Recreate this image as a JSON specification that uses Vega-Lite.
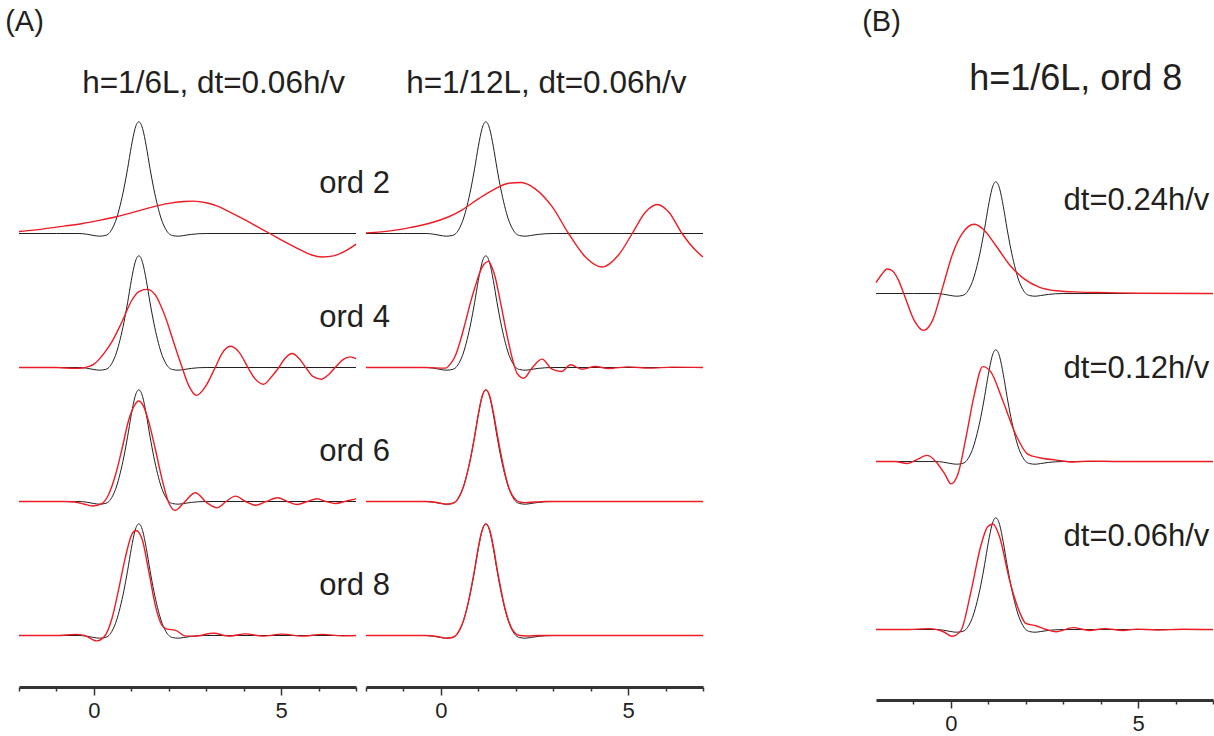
{
"$schema": "https://vega.github.io/schema/vega-lite/v6.json",
"background": "white",
"padding": {"left": 5, "top": 8, "right": 0, "bottom": 0},
"config": {"view": {"stroke": null}, "font": "Liberation Sans", "title": {"fontWeight": "normal", "color": "#231f20", "font": "Liberation Sans"}, "text": {"font": "Liberation Sans"}},
"datasets": {
"ref": [
{"x":-2,"y":0},{"x":-1,"y":0},{"x":-0.4,"y":0},{"x":-0.2,"y":-0.006},{"x":0,"y":-0.018},{"x":0.15,"y":-0.024},{"x":0.3,"y":-0.018},{"x":0.4,"y":0},{"x":0.5,"y":0.05},{"x":0.6,"y":0.13},{"x":0.7,"y":0.25},{"x":0.8,"y":0.4},{"x":0.9,"y":0.58},{"x":1.0,"y":0.78},{"x":1.1,"y":0.94},{"x":1.15,"y":0.985},{"x":1.2,"y":1.0},{"x":1.25,"y":0.985},{"x":1.3,"y":0.94},{"x":1.4,"y":0.78},{"x":1.5,"y":0.58},{"x":1.6,"y":0.4},{"x":1.7,"y":0.25},{"x":1.8,"y":0.13},{"x":1.9,"y":0.05},{"x":2.0,"y":0},{"x":2.1,"y":-0.018},{"x":2.25,"y":-0.024},{"x":2.4,"y":-0.018},{"x":2.6,"y":-0.008},{"x":2.8,"y":-0.002},{"x":3.0,"y":0},{"x":7,"y":0}
],
"red": [
{"s":"L2","x":-2,"y":0.018},{"s":"L2","x":-1.6,"y":0.03},{"s":"L2","x":-1.2,"y":0.048},{"s":"L2","x":-0.8,"y":0.066},{"s":"L2","x":-0.3,"y":0.09},{"s":"L2","x":0.1,"y":0.115},{"s":"L2","x":0.6,"y":0.15},{"s":"L2","x":1.0,"y":0.185},{"s":"L2","x":1.5,"y":0.232},{"s":"L2","x":2.0,"y":0.27},{"s":"L2","x":2.4,"y":0.286},{"s":"L2","x":2.65,"y":0.29},{"s":"L2","x":3.0,"y":0.275},{"s":"L2","x":3.3,"y":0.245},{"s":"L2","x":3.7,"y":0.18},{"s":"L2","x":4.1,"y":0.11},{"s":"L2","x":4.4,"y":0.055},{"s":"L2","x":4.7,"y":0},{"s":"L2","x":5.1,"y":-0.075},{"s":"L2","x":5.5,"y":-0.145},{"s":"L2","x":5.8,"y":-0.19},{"s":"L2","x":6.1,"y":-0.21},{"s":"L2","x":6.4,"y":-0.2},{"s":"L2","x":6.7,"y":-0.16},{"s":"L2","x":7.0,"y":-0.095},
{"s":"L4","x":-2,"y":0},{"s":"L4","x":-1,"y":0},{"s":"L4","x":-0.5,"y":-0.008},{"s":"L4","x":-0.3,"y":-0.005},{"s":"L4","x":-0.15,"y":0.008},{"s":"L4","x":0,"y":0.03},{"s":"L4","x":0.12,"y":0.066},{"s":"L4","x":0.3,"y":0.14},{"s":"L4","x":0.48,"y":0.23},{"s":"L4","x":0.75,"y":0.41},{"s":"L4","x":1.01,"y":0.6},{"s":"L4","x":1.2,"y":0.68},{"s":"L4","x":1.42,"y":0.7},{"s":"L4","x":1.64,"y":0.65},{"s":"L4","x":1.91,"y":0.45},{"s":"L4","x":2.17,"y":0.185},{"s":"L4","x":2.35,"y":0.006},{"s":"L4","x":2.53,"y":-0.16},{"s":"L4","x":2.74,"y":-0.25},{"s":"L4","x":2.98,"y":-0.17},{"s":"L4","x":3.24,"y":0},{"s":"L4","x":3.42,"y":0.125},{"s":"L4","x":3.64,"y":0.19},{"s":"L4","x":3.87,"y":0.14},{"s":"L4","x":4.13,"y":-0.01},{"s":"L4","x":4.3,"y":-0.1},{"s":"L4","x":4.53,"y":-0.15},{"s":"L4","x":4.75,"y":-0.08},{"s":"L4","x":4.94,"y":0},{"s":"L4","x":5.1,"y":0.08},{"s":"L4","x":5.3,"y":0.125},{"s":"L4","x":5.48,"y":0.08},{"s":"L4","x":5.66,"y":0},{"s":"L4","x":5.85,"y":-0.08},{"s":"L4","x":6.08,"y":-0.105},{"s":"L4","x":6.28,"y":-0.06},{"s":"L4","x":6.46,"y":0.006},{"s":"L4","x":6.65,"y":0.07},{"s":"L4","x":6.85,"y":0.095},{"s":"L4","x":7.0,"y":0.08},
{"s":"L6","x":-2,"y":0},{"s":"L6","x":-0.8,"y":0},{"s":"L6","x":-0.5,"y":-0.005},{"s":"L6","x":-0.25,"y":-0.025},{"s":"L6","x":-0.03,"y":-0.04},{"s":"L6","x":0.21,"y":-0.02},{"s":"L6","x":0.39,"y":0.06},{"s":"L6","x":0.57,"y":0.23},{"s":"L6","x":0.75,"y":0.47},{"s":"L6","x":0.93,"y":0.73},{"s":"L6","x":1.1,"y":0.87},{"s":"L6","x":1.19,"y":0.9},{"s":"L6","x":1.33,"y":0.85},{"s":"L6","x":1.46,"y":0.72},{"s":"L6","x":1.64,"y":0.47},{"s":"L6","x":1.82,"y":0.2},{"s":"L6","x":2.0,"y":-0.012},{"s":"L6","x":2.17,"y":-0.08},{"s":"L6","x":2.4,"y":-0.012},{"s":"L6","x":2.71,"y":0.078},{"s":"L6","x":3.02,"y":-0.012},{"s":"L6","x":3.29,"y":-0.057},{"s":"L6","x":3.53,"y":0},{"s":"L6","x":3.78,"y":0.048},{"s":"L6","x":4.05,"y":0},{"s":"L6","x":4.31,"y":-0.033},{"s":"L6","x":4.6,"y":0},{"s":"L6","x":4.91,"y":0.033},{"s":"L6","x":5.17,"y":0},{"s":"L6","x":5.43,"y":-0.027},{"s":"L6","x":5.7,"y":0},{"s":"L6","x":5.96,"y":0.024},{"s":"L6","x":6.2,"y":0},{"s":"L6","x":6.45,"y":-0.018},{"s":"L6","x":6.75,"y":0.005},{"s":"L6","x":7.0,"y":0.024},
{"s":"L8","x":-2,"y":0},{"s":"L8","x":-1,"y":0},{"s":"L8","x":-0.5,"y":0.01},{"s":"L8","x":-0.25,"y":0},{"s":"L8","x":0.08,"y":-0.048},{"s":"L8","x":0.3,"y":0},{"s":"L8","x":0.48,"y":0.15},{"s":"L8","x":0.66,"y":0.41},{"s":"L8","x":0.84,"y":0.7},{"s":"L8","x":1.02,"y":0.91},{"s":"L8","x":1.12,"y":0.94},{"s":"L8","x":1.28,"y":0.87},{"s":"L8","x":1.46,"y":0.585},{"s":"L8","x":1.64,"y":0.27},{"s":"L8","x":1.82,"y":0.09},{"s":"L8","x":1.95,"y":0.057},{"s":"L8","x":2.17,"y":0.048},{"s":"L8","x":2.44,"y":-0.003},{"s":"L8","x":2.67,"y":-0.006},{"s":"L8","x":3.2,"y":0.02},{"s":"L8","x":3.6,"y":-0.006},{"s":"L8","x":4.05,"y":0.015},{"s":"L8","x":4.5,"y":-0.006},{"s":"L8","x":5.03,"y":0.012},{"s":"L8","x":5.56,"y":-0.006},{"s":"L8","x":6.1,"y":0.01},{"s":"L8","x":6.63,"y":-0.003},{"s":"L8","x":7.0,"y":0},
{"s":"R2","x":-2,"y":0.006},{"s":"R2","x":-1.6,"y":0.015},{"s":"R2","x":-1.22,"y":0.03},{"s":"R2","x":-0.8,"y":0.055},{"s":"R2","x":-0.33,"y":0.09},{"s":"R2","x":0.21,"y":0.15},{"s":"R2","x":0.56,"y":0.21},{"s":"R2","x":1.0,"y":0.31},{"s":"R2","x":1.45,"y":0.4},{"s":"R2","x":1.81,"y":0.45},{"s":"R2","x":2.15,"y":0.457},{"s":"R2","x":2.52,"y":0.4},{"s":"R2","x":2.97,"y":0.24},{"s":"R2","x":3.41,"y":0},{"s":"R2","x":3.86,"y":-0.21},{"s":"R2","x":4.3,"y":-0.3},{"s":"R2","x":4.75,"y":-0.19},{"s":"R2","x":5.11,"y":0},{"s":"R2","x":5.46,"y":0.19},{"s":"R2","x":5.78,"y":0.26},{"s":"R2","x":6.09,"y":0.19},{"s":"R2","x":6.44,"y":0},{"s":"R2","x":6.8,"y":-0.15},{"s":"R2","x":7.0,"y":-0.21},
{"s":"R4","x":-2,"y":0},{"s":"R4","x":-0.4,"y":0},{"s":"R4","x":0.12,"y":-0.006},{"s":"R4","x":0.25,"y":0.03},{"s":"R4","x":0.38,"y":0.1},{"s":"R4","x":0.52,"y":0.24},{"s":"R4","x":0.65,"y":0.4},{"s":"R4","x":0.78,"y":0.57},{"s":"R4","x":0.92,"y":0.73},{"s":"R4","x":1.05,"y":0.86},{"s":"R4","x":1.14,"y":0.92},{"s":"R4","x":1.27,"y":0.95},{"s":"R4","x":1.36,"y":0.9},{"s":"R4","x":1.45,"y":0.81},{"s":"R4","x":1.54,"y":0.67},{"s":"R4","x":1.63,"y":0.52},{"s":"R4","x":1.74,"y":0.33},{"s":"R4","x":1.85,"y":0.16},{"s":"R4","x":1.94,"y":0.04},{"s":"R4","x":2.03,"y":-0.05},{"s":"R4","x":2.21,"y":-0.096},{"s":"R4","x":2.43,"y":-0.006},{"s":"R4","x":2.7,"y":0.075},{"s":"R4","x":2.97,"y":-0.015},{"s":"R4","x":3.22,"y":-0.036},{"s":"R4","x":3.46,"y":0.024},{"s":"R4","x":3.77,"y":-0.015},{"s":"R4","x":4.12,"y":0.009},{"s":"R4","x":4.48,"y":-0.009},{"s":"R4","x":5.02,"y":0.006},{"s":"R4","x":5.55,"y":-0.006},{"s":"R4","x":6.2,"y":0.003},{"s":"R4","x":7.0,"y":0},
{"s":"R6","x":-2,"y":0},{"s":"R6","x":-0.4,"y":0},{"s":"R6","x":-0.2,"y":-0.004},{"s":"R6","x":0,"y":-0.016},{"s":"R6","x":0.15,"y":-0.024},{"s":"R6","x":0.3,"y":-0.018},{"s":"R6","x":0.4,"y":0},{"s":"R6","x":0.5,"y":0.05},{"s":"R6","x":0.6,"y":0.13},{"s":"R6","x":0.7,"y":0.25},{"s":"R6","x":0.8,"y":0.4},{"s":"R6","x":0.9,"y":0.58},{"s":"R6","x":1.0,"y":0.78},{"s":"R6","x":1.1,"y":0.94},{"s":"R6","x":1.2,"y":1.0},{"s":"R6","x":1.3,"y":0.95},{"s":"R6","x":1.4,"y":0.8},{"s":"R6","x":1.5,"y":0.61},{"s":"R6","x":1.6,"y":0.43},{"s":"R6","x":1.7,"y":0.27},{"s":"R6","x":1.8,"y":0.14},{"s":"R6","x":1.9,"y":0.06},{"s":"R6","x":2.0,"y":0.015},{"s":"R6","x":2.1,"y":-0.005},{"s":"R6","x":2.25,"y":-0.01},{"s":"R6","x":2.5,"y":-0.005},{"s":"R6","x":2.8,"y":0},{"s":"R6","x":7,"y":0},
{"s":"R8","x":-2,"y":0},{"s":"R8","x":-0.4,"y":0},{"s":"R8","x":-0.2,"y":-0.004},{"s":"R8","x":0,"y":-0.016},{"s":"R8","x":0.15,"y":-0.024},{"s":"R8","x":0.3,"y":-0.018},{"s":"R8","x":0.4,"y":0},{"s":"R8","x":0.5,"y":0.05},{"s":"R8","x":0.6,"y":0.13},{"s":"R8","x":0.7,"y":0.25},{"s":"R8","x":0.8,"y":0.41},{"s":"R8","x":0.9,"y":0.59},{"s":"R8","x":1.0,"y":0.79},{"s":"R8","x":1.1,"y":0.94},{"s":"R8","x":1.2,"y":1.0},{"s":"R8","x":1.3,"y":0.95},{"s":"R8","x":1.4,"y":0.8},{"s":"R8","x":1.5,"y":0.6},{"s":"R8","x":1.6,"y":0.42},{"s":"R8","x":1.7,"y":0.26},{"s":"R8","x":1.8,"y":0.14},{"s":"R8","x":1.9,"y":0.06},{"s":"R8","x":2.0,"y":0.015},{"s":"R8","x":2.1,"y":0},{"s":"R8","x":2.3,"y":-0.004},{"s":"R8","x":2.6,"y":0},{"s":"R8","x":7,"y":0},
{"s":"B24","x":-2,"y":0.097},{"s":"B24","x":-1.85,"y":0.17},{"s":"B24","x":-1.7,"y":0.22},{"s":"B24","x":-1.55,"y":0.2},{"s":"B24","x":-1.4,"y":0.12},{"s":"B24","x":-1.25,"y":-0.008},{"s":"B24","x":-0.98,"y":-0.24},{"s":"B24","x":-0.73,"y":-0.33},{"s":"B24","x":-0.49,"y":-0.24},{"s":"B24","x":-0.22,"y":0.055},{"s":"B24","x":0.04,"y":0.35},{"s":"B24","x":0.31,"y":0.54},{"s":"B24","x":0.62,"y":0.62},{"s":"B24","x":0.85,"y":0.58},{"s":"B24","x":1.2,"y":0.43},{"s":"B24","x":1.56,"y":0.26},{"s":"B24","x":1.92,"y":0.14},{"s":"B24","x":2.37,"y":0.055},{"s":"B24","x":2.81,"y":0.025},{"s":"B24","x":3.44,"y":0.013},{"s":"B24","x":4.16,"y":0.008},{"s":"B24","x":5,"y":0.003},{"s":"B24","x":7,"y":0},
{"s":"B12","x":-2,"y":0},{"s":"B12","x":-1.5,"y":0},{"s":"B12","x":-1.16,"y":-0.017},{"s":"B12","x":-0.9,"y":0.02},{"s":"B12","x":-0.63,"y":0.055},{"s":"B12","x":-0.36,"y":-0.017},{"s":"B12","x":-0.15,"y":-0.12},{"s":"B12","x":0,"y":-0.2},{"s":"B12","x":0.2,"y":-0.1},{"s":"B12","x":0.4,"y":0.21},{"s":"B12","x":0.62,"y":0.59},{"s":"B12","x":0.85,"y":0.85},{"s":"B12","x":1.07,"y":0.8},{"s":"B12","x":1.38,"y":0.55},{"s":"B12","x":1.74,"y":0.235},{"s":"B12","x":2.05,"y":0.067},{"s":"B12","x":2.37,"y":0.034},{"s":"B12","x":2.81,"y":0.013},{"s":"B12","x":3.26,"y":-0.004},{"s":"B12","x":3.7,"y":0.004},{"s":"B12","x":4.5,"y":0},{"s":"B12","x":7,"y":0},
{"s":"B06","x":-2,"y":0},{"s":"B06","x":-1.2,"y":0},{"s":"B06","x":-0.57,"y":0.008},{"s":"B06","x":-0.2,"y":-0.02},{"s":"B06","x":0.04,"y":-0.06},{"s":"B06","x":0.27,"y":-0.008},{"s":"B06","x":0.53,"y":0.33},{"s":"B06","x":0.8,"y":0.75},{"s":"B06","x":0.98,"y":0.92},{"s":"B06","x":1.12,"y":0.945},{"s":"B06","x":1.3,"y":0.83},{"s":"B06","x":1.56,"y":0.45},{"s":"B06","x":1.83,"y":0.16},{"s":"B06","x":2.0,"y":0.055},{"s":"B06","x":2.27,"y":0.034},{"s":"B06","x":2.55,"y":0},{"s":"B06","x":2.81,"y":-0.02},{"s":"B06","x":3.26,"y":0.017},{"s":"B06","x":3.7,"y":-0.008},{"s":"B06","x":4.1,"y":0.008},{"s":"B06","x":4.6,"y":-0.008},{"s":"B06","x":4.96,"y":0.004},{"s":"B06","x":5.5,"y":-0.004},{"s":"B06","x":6.2,"y":0.003},{"s":"B06","x":7,"y":0}
]
},
"spacing": 156,
"resolve": {"scale": {"x": "independent", "y": "independent"}},
"hconcat": [
{
"title": {"text": "(A)", "anchor": "start", "fontSize": 29, "dx": -11, "offset": 31},
"bounds": "flush", "columns": 2, "spacing": {"row": 0, "column": 10},
"resolve": {"scale": {"x": "independent", "y": "independent"}},
"concat": [
{"width": 337, "height": 134,
"title": {"text": "h=1/6L, dt=0.06h/v", "anchor": "start", "fontSize": 31.5, "dx": 66, "offset": 20},
"layer": [
{"data": {"name": "ref"}, "mark": {"type": "line", "color": "#231f20", "strokeWidth": 1, "interpolate": "monotone"}, "encoding": {"x": {"field": "x", "type": "quantitative", "scale": {"domain": [-2, 7], "nice": false, "zero": false}, "axis": null}, "y": {"field": "y", "type": "quantitative", "scale": {"domain": [-0.3, 0.9], "nice": false, "zero": false}, "axis": null}}},
{"data": {"name": "red"}, "transform": [{"filter": {"field": "s", "equal": "L2"}}], "mark": {"type": "line", "color": "#ed1c24", "strokeWidth": 1.4, "interpolate": "monotone"}, "encoding": {"x": {"field": "x", "type": "quantitative", "scale": {"domain": [-2, 7], "nice": false, "zero": false}, "axis": null}, "y": {"field": "y", "type": "quantitative", "scale": {"domain": [-0.3, 0.9], "nice": false, "zero": false}, "axis": null}}},
{"data": {"values": [{"label": "ord 2"}]}, "mark": {"type": "text", "align": "left", "baseline": "alphabetic", "fontSize": 31, "color": "#231f20"}, "encoding": {"x": {"datum": 6.02, "type": "quantitative", "axis": null}, "y": {"datum": 0.36, "type": "quantitative", "axis": null}, "text": {"field": "label"}}}
]},
{"width": 337, "height": 134,
"title": {"text": "h=1/12L, dt=0.06h/v", "anchor": "start", "fontSize": 31.5, "dx": 43, "offset": 20},
"layer": [
{"data": {"name": "ref"}, "mark": {"type": "line", "color": "#231f20", "strokeWidth": 1, "interpolate": "monotone"}, "encoding": {"x": {"field": "x", "type": "quantitative", "scale": {"domain": [-2, 7], "nice": false, "zero": false}, "axis": null}, "y": {"field": "y", "type": "quantitative", "scale": {"domain": [-0.3, 0.9], "nice": false, "zero": false}, "axis": null}}},
{"data": {"name": "red"}, "transform": [{"filter": {"field": "s", "equal": "R2"}}], "mark": {"type": "line", "color": "#ed1c24", "strokeWidth": 1.4, "interpolate": "monotone"}, "encoding": {"x": {"field": "x", "type": "quantitative", "scale": {"domain": [-2, 7], "nice": false, "zero": false}, "axis": null}, "y": {"field": "y", "type": "quantitative", "scale": {"domain": [-0.3, 0.9], "nice": false, "zero": false}, "axis": null}}}
]},
{"width": 337, "height": 134,
"layer": [
{"data": {"name": "ref"}, "mark": {"type": "line", "color": "#231f20", "strokeWidth": 1, "interpolate": "monotone"}, "encoding": {"x": {"field": "x", "type": "quantitative", "scale": {"domain": [-2, 7], "nice": false, "zero": false}, "axis": null}, "y": {"field": "y", "type": "quantitative", "scale": {"domain": [-0.3, 0.9], "nice": false, "zero": false}, "axis": null}}},
{"data": {"name": "red"}, "transform": [{"filter": {"field": "s", "equal": "L4"}}], "mark": {"type": "line", "color": "#ed1c24", "strokeWidth": 1.4, "interpolate": "monotone"}, "encoding": {"x": {"field": "x", "type": "quantitative", "scale": {"domain": [-2, 7], "nice": false, "zero": false}, "axis": null}, "y": {"field": "y", "type": "quantitative", "scale": {"domain": [-0.3, 0.9], "nice": false, "zero": false}, "axis": null}}},
{"data": {"values": [{"label": "ord 4"}]}, "mark": {"type": "text", "align": "left", "baseline": "alphabetic", "fontSize": 31, "color": "#231f20"}, "encoding": {"x": {"datum": 6.02, "type": "quantitative", "axis": null}, "y": {"datum": 0.36, "type": "quantitative", "axis": null}, "text": {"field": "label"}}}
]},
{"width": 337, "height": 134,
"layer": [
{"data": {"name": "ref"}, "mark": {"type": "line", "color": "#231f20", "strokeWidth": 1, "interpolate": "monotone"}, "encoding": {"x": {"field": "x", "type": "quantitative", "scale": {"domain": [-2, 7], "nice": false, "zero": false}, "axis": null}, "y": {"field": "y", "type": "quantitative", "scale": {"domain": [-0.3, 0.9], "nice": false, "zero": false}, "axis": null}}},
{"data": {"name": "red"}, "transform": [{"filter": {"field": "s", "equal": "R4"}}], "mark": {"type": "line", "color": "#ed1c24", "strokeWidth": 1.4, "interpolate": "monotone"}, "encoding": {"x": {"field": "x", "type": "quantitative", "scale": {"domain": [-2, 7], "nice": false, "zero": false}, "axis": null}, "y": {"field": "y", "type": "quantitative", "scale": {"domain": [-0.3, 0.9], "nice": false, "zero": false}, "axis": null}}}
]},
{"width": 337, "height": 134,
"layer": [
{"data": {"name": "ref"}, "mark": {"type": "line", "color": "#231f20", "strokeWidth": 1, "interpolate": "monotone"}, "encoding": {"x": {"field": "x", "type": "quantitative", "scale": {"domain": [-2, 7], "nice": false, "zero": false}, "axis": null}, "y": {"field": "y", "type": "quantitative", "scale": {"domain": [-0.3, 0.9], "nice": false, "zero": false}, "axis": null}}},
{"data": {"name": "red"}, "transform": [{"filter": {"field": "s", "equal": "L6"}}], "mark": {"type": "line", "color": "#ed1c24", "strokeWidth": 1.4, "interpolate": "monotone"}, "encoding": {"x": {"field": "x", "type": "quantitative", "scale": {"domain": [-2, 7], "nice": false, "zero": false}, "axis": null}, "y": {"field": "y", "type": "quantitative", "scale": {"domain": [-0.3, 0.9], "nice": false, "zero": false}, "axis": null}}},
{"data": {"values": [{"label": "ord 6"}]}, "mark": {"type": "text", "align": "left", "baseline": "alphabetic", "fontSize": 31, "color": "#231f20"}, "encoding": {"x": {"datum": 6.02, "type": "quantitative", "axis": null}, "y": {"datum": 0.36, "type": "quantitative", "axis": null}, "text": {"field": "label"}}}
]},
{"width": 337, "height": 134,
"layer": [
{"data": {"name": "ref"}, "mark": {"type": "line", "color": "#231f20", "strokeWidth": 1, "interpolate": "monotone"}, "encoding": {"x": {"field": "x", "type": "quantitative", "scale": {"domain": [-2, 7], "nice": false, "zero": false}, "axis": null}, "y": {"field": "y", "type": "quantitative", "scale": {"domain": [-0.3, 0.9], "nice": false, "zero": false}, "axis": null}}},
{"data": {"name": "red"}, "transform": [{"filter": {"field": "s", "equal": "R6"}}], "mark": {"type": "line", "color": "#ed1c24", "strokeWidth": 1.4, "interpolate": "monotone"}, "encoding": {"x": {"field": "x", "type": "quantitative", "scale": {"domain": [-2, 7], "nice": false, "zero": false}, "axis": null}, "y": {"field": "y", "type": "quantitative", "scale": {"domain": [-0.3, 0.9], "nice": false, "zero": false}, "axis": null}}}
]},
{"width": 337, "height": 134,
"layer": [
{"data": {"name": "ref"}, "mark": {"type": "line", "color": "#231f20", "strokeWidth": 1, "interpolate": "monotone"}, "encoding": {"x": {"field": "x", "type": "quantitative", "scale": {"domain": [-2, 7], "nice": false, "zero": false}, "axis": {"values": [-2, -1, 0, 1, 2, 3, 4, 5, 6, 7], "labelExpr": "datum.value === 0 || datum.value === 5 ? datum.label : ''", "offset": 18, "domainWidth": 3, "domainColor": "#333333", "tickColor": "#333333", "tickWidth": 1.5, "tickSize": {"condition": {"test": "datum.value === 0 || datum.value === 5", "value": 8}, "value": 4}, "labelFontSize": 22, "labelColor": "#231f20", "labelPadding": 5, "grid": false, "title": null}}, "y": {"field": "y", "type": "quantitative", "scale": {"domain": [-0.3, 0.9], "nice": false, "zero": false}, "axis": null}}},
{"data": {"name": "red"}, "transform": [{"filter": {"field": "s", "equal": "L8"}}], "mark": {"type": "line", "color": "#ed1c24", "strokeWidth": 1.4, "interpolate": "monotone"}, "encoding": {"x": {"field": "x", "type": "quantitative", "scale": {"domain": [-2, 7], "nice": false, "zero": false}, "axis": {"values": [-2, -1, 0, 1, 2, 3, 4, 5, 6, 7], "labelExpr": "datum.value === 0 || datum.value === 5 ? datum.label : ''", "offset": 18, "domainWidth": 3, "domainColor": "#333333", "tickColor": "#333333", "tickWidth": 1.5, "tickSize": {"condition": {"test": "datum.value === 0 || datum.value === 5", "value": 8}, "value": 4}, "labelFontSize": 22, "labelColor": "#231f20", "labelPadding": 5, "grid": false, "title": null}}, "y": {"field": "y", "type": "quantitative", "scale": {"domain": [-0.3, 0.9], "nice": false, "zero": false}, "axis": null}}},
{"data": {"values": [{"label": "ord 8"}]}, "mark": {"type": "text", "align": "left", "baseline": "alphabetic", "fontSize": 31, "color": "#231f20"}, "encoding": {"x": {"datum": 6.02, "type": "quantitative", "axis": {"values": [-2, -1, 0, 1, 2, 3, 4, 5, 6, 7], "labelExpr": "datum.value === 0 || datum.value === 5 ? datum.label : ''", "offset": 18, "domainWidth": 3, "domainColor": "#333333", "tickColor": "#333333", "tickWidth": 1.5, "tickSize": {"condition": {"test": "datum.value === 0 || datum.value === 5", "value": 8}, "value": 4}, "labelFontSize": 22, "labelColor": "#231f20", "labelPadding": 5, "grid": false, "title": null}}, "y": {"datum": 0.36, "type": "quantitative", "axis": null}, "text": {"field": "label"}}}
]},
{"width": 337, "height": 134,
"layer": [
{"data": {"name": "ref"}, "mark": {"type": "line", "color": "#231f20", "strokeWidth": 1, "interpolate": "monotone"}, "encoding": {"x": {"field": "x", "type": "quantitative", "scale": {"domain": [-2, 7], "nice": false, "zero": false}, "axis": {"values": [-2, -1, 0, 1, 2, 3, 4, 5, 6, 7], "labelExpr": "datum.value === 0 || datum.value === 5 ? datum.label : ''", "offset": 18, "domainWidth": 3, "domainColor": "#333333", "tickColor": "#333333", "tickWidth": 1.5, "tickSize": {"condition": {"test": "datum.value === 0 || datum.value === 5", "value": 8}, "value": 4}, "labelFontSize": 22, "labelColor": "#231f20", "labelPadding": 5, "grid": false, "title": null}}, "y": {"field": "y", "type": "quantitative", "scale": {"domain": [-0.3, 0.9], "nice": false, "zero": false}, "axis": null}}},
{"data": {"name": "red"}, "transform": [{"filter": {"field": "s", "equal": "R8"}}], "mark": {"type": "line", "color": "#ed1c24", "strokeWidth": 1.4, "interpolate": "monotone"}, "encoding": {"x": {"field": "x", "type": "quantitative", "scale": {"domain": [-2, 7], "nice": false, "zero": false}, "axis": {"values": [-2, -1, 0, 1, 2, 3, 4, 5, 6, 7], "labelExpr": "datum.value === 0 || datum.value === 5 ? datum.label : ''", "offset": 18, "domainWidth": 3, "domainColor": "#333333", "tickColor": "#333333", "tickWidth": 1.5, "tickSize": {"condition": {"test": "datum.value === 0 || datum.value === 5", "value": 8}, "value": 4}, "labelFontSize": 22, "labelColor": "#231f20", "labelPadding": 5, "grid": false, "title": null}}, "y": {"field": "y", "type": "quantitative", "scale": {"domain": [-0.3, 0.9], "nice": false, "zero": false}, "axis": null}}}
]}
]
},
{
"title": {"text": "(B)", "anchor": "start", "fontSize": 29, "dx": -11, "offset": 24},
"bounds": "flush", "spacing": 0,
"resolve": {"scale": {"x": "independent", "y": "independent"}},
"vconcat": [
{"width": 337, "height": 228,
"title": {"text": "h=1/6L, ord 8", "anchor": "start", "fontSize": 36, "dx": 96, "offset": 35},
"layer": [
{"data": {"name": "ref"}, "mark": {"type": "line", "color": "#231f20", "strokeWidth": 1, "interpolate": "monotone"}, "encoding": {"x": {"field": "x", "type": "quantitative", "scale": {"domain": [-2, 7], "nice": false, "zero": false}, "axis": null}, "y": {"field": "y", "type": "quantitative", "scale": {"domain": [-0.604, 1.437], "nice": false, "zero": false}, "axis": null}}},
{"data": {"name": "red"}, "transform": [{"filter": {"field": "s", "equal": "B24"}}], "mark": {"type": "line", "color": "#ed1c24", "strokeWidth": 1.4, "interpolate": "monotone"}, "encoding": {"x": {"field": "x", "type": "quantitative", "scale": {"domain": [-2, 7], "nice": false, "zero": false}, "axis": null}, "y": {"field": "y", "type": "quantitative", "scale": {"domain": [-0.604, 1.437], "nice": false, "zero": false}, "axis": null}}},
{"data": {"values": [{"label": "dt=0.24h/v"}]}, "mark": {"type": "text", "align": "left", "baseline": "alphabetic", "fontSize": 31, "color": "#231f20"}, "encoding": {"x": {"datum": 3.01, "type": "quantitative", "axis": null}, "y": {"datum": 0.75, "type": "quantitative", "axis": null}, "text": {"field": "label"}}}
]},
{"width": 337, "height": 168,
"layer": [
{"data": {"name": "ref"}, "mark": {"type": "line", "color": "#231f20", "strokeWidth": 1, "interpolate": "monotone"}, "encoding": {"x": {"field": "x", "type": "quantitative", "scale": {"domain": [-2, 7], "nice": false, "zero": false}, "axis": null}, "y": {"field": "y", "type": "quantitative", "scale": {"domain": [-0.604, 0.9], "nice": false, "zero": false}, "axis": null}}},
{"data": {"name": "red"}, "transform": [{"filter": {"field": "s", "equal": "B12"}}], "mark": {"type": "line", "color": "#ed1c24", "strokeWidth": 1.4, "interpolate": "monotone"}, "encoding": {"x": {"field": "x", "type": "quantitative", "scale": {"domain": [-2, 7], "nice": false, "zero": false}, "axis": null}, "y": {"field": "y", "type": "quantitative", "scale": {"domain": [-0.604, 0.9], "nice": false, "zero": false}, "axis": null}}},
{"data": {"values": [{"label": "dt=0.12h/v"}]}, "mark": {"type": "text", "align": "left", "baseline": "alphabetic", "fontSize": 31, "color": "#231f20"}, "encoding": {"x": {"datum": 3.01, "type": "quantitative", "axis": null}, "y": {"datum": 0.75, "type": "quantitative", "axis": null}, "text": {"field": "label"}}}
]},
{"width": 337, "height": 168,
"layer": [
{"data": {"name": "ref"}, "mark": {"type": "line", "color": "#231f20", "strokeWidth": 1, "interpolate": "monotone"}, "encoding": {"x": {"field": "x", "type": "quantitative", "scale": {"domain": [-2, 7], "nice": false, "zero": false}, "axis": {"values": [-1, 0, 1, 2, 3, 4, 5, 6, 7], "labelExpr": "datum.value === 0 || datum.value === 5 ? datum.label : ''", "offset": 3, "domainWidth": 3, "domainColor": "#333333", "tickColor": "#333333", "tickWidth": 1.5, "tickSize": {"condition": {"test": "datum.value === 0 || datum.value === 5", "value": 8}, "value": 4}, "labelFontSize": 22, "labelColor": "#231f20", "labelPadding": 5, "grid": false, "title": null}}, "y": {"field": "y", "type": "quantitative", "scale": {"domain": [-0.604, 0.9], "nice": false, "zero": false}, "axis": null}}},
{"data": {"name": "red"}, "transform": [{"filter": {"field": "s", "equal": "B06"}}], "mark": {"type": "line", "color": "#ed1c24", "strokeWidth": 1.4, "interpolate": "monotone"}, "encoding": {"x": {"field": "x", "type": "quantitative", "scale": {"domain": [-2, 7], "nice": false, "zero": false}, "axis": {"values": [-1, 0, 1, 2, 3, 4, 5, 6, 7], "labelExpr": "datum.value === 0 || datum.value === 5 ? datum.label : ''", "offset": 3, "domainWidth": 3, "domainColor": "#333333", "tickColor": "#333333", "tickWidth": 1.5, "tickSize": {"condition": {"test": "datum.value === 0 || datum.value === 5", "value": 8}, "value": 4}, "labelFontSize": 22, "labelColor": "#231f20", "labelPadding": 5, "grid": false, "title": null}}, "y": {"field": "y", "type": "quantitative", "scale": {"domain": [-0.604, 0.9], "nice": false, "zero": false}, "axis": null}}},
{"data": {"values": [{"label": "dt=0.06h/v"}]}, "mark": {"type": "text", "align": "left", "baseline": "alphabetic", "fontSize": 31, "color": "#231f20"}, "encoding": {"x": {"datum": 3.01, "type": "quantitative", "axis": {"values": [-1, 0, 1, 2, 3, 4, 5, 6, 7], "labelExpr": "datum.value === 0 || datum.value === 5 ? datum.label : ''", "offset": 3, "domainWidth": 3, "domainColor": "#333333", "tickColor": "#333333", "tickWidth": 1.5, "tickSize": {"condition": {"test": "datum.value === 0 || datum.value === 5", "value": 8}, "value": 4}, "labelFontSize": 22, "labelColor": "#231f20", "labelPadding": 5, "grid": false, "title": null}}, "y": {"datum": 0.75, "type": "quantitative", "axis": null}, "text": {"field": "label"}}}
]}
]
}
]
}
